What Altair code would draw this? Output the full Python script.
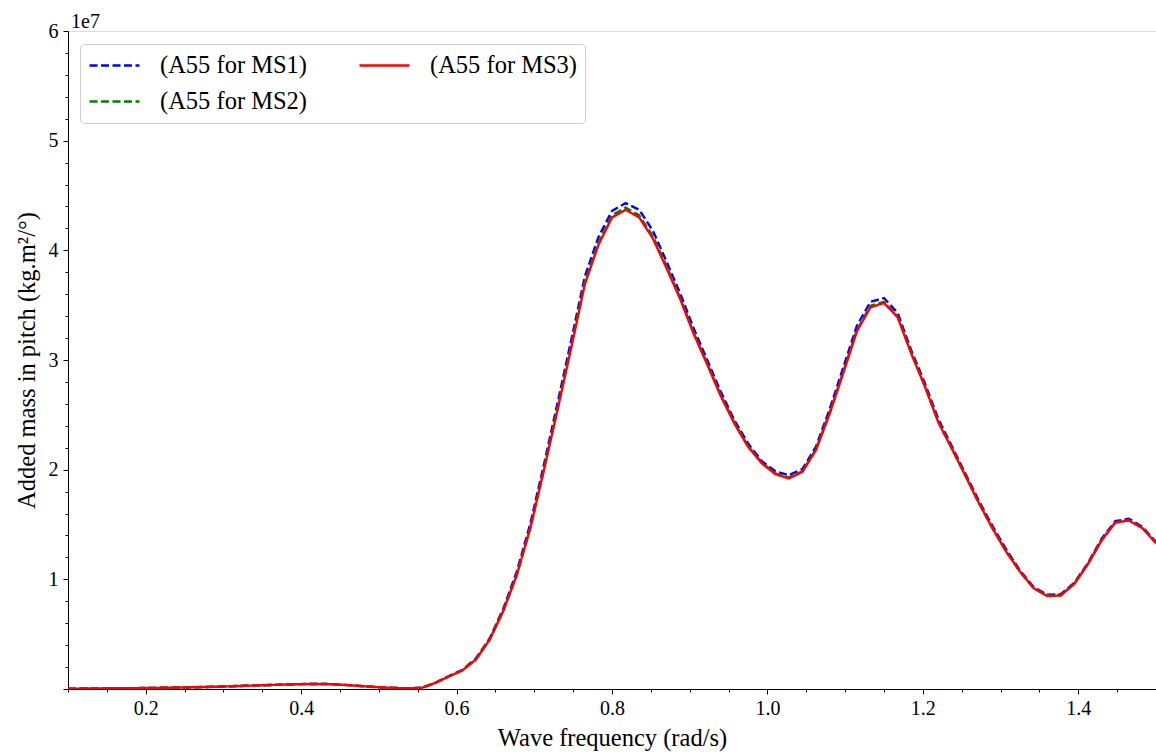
import altair as alt
import pandas as pd

# Wave frequency grid (rad/s)
freq = [0.1, 0.1175, 0.135, 0.1525, 0.17, 0.1875, 0.205, 0.2225, 0.24, 0.2575,
        0.275, 0.2925, 0.31, 0.3275, 0.345, 0.3625, 0.38, 0.3975, 0.415, 0.4325,
        0.45, 0.4675, 0.485, 0.5025, 0.52, 0.5375, 0.555, 0.5725, 0.59, 0.6075,
        0.625, 0.6425, 0.66, 0.6775, 0.695, 0.7125, 0.73, 0.7475, 0.765, 0.7825,
        0.8, 0.8175, 0.835, 0.8525, 0.87, 0.8875, 0.905, 0.9225, 0.94, 0.9575,
        0.975, 0.9925, 1.01, 1.0275, 1.045, 1.0625, 1.08, 1.0975, 1.115, 1.1325,
        1.15, 1.1675, 1.185, 1.2025, 1.22, 1.2375, 1.255, 1.2725, 1.29, 1.3075,
        1.325, 1.3425, 1.36, 1.3775, 1.395, 1.4125, 1.43, 1.4475, 1.465, 1.4825,
        1.5]

# Added mass in pitch, in units of 1e7 kg.m^2/deg
ms1 = [0.003, 0.004, 0.005, 0.006, 0.007, 0.008, 0.010, 0.011, 0.013, 0.015,
       0.018, 0.021, 0.025, 0.029, 0.033, 0.037, 0.041, 0.044, 0.046, 0.045,
       0.040, 0.032, 0.023, 0.015, 0.009, 0.007, 0.011, 0.057, 0.117, 0.175,
       0.28, 0.46, 0.73, 1.07, 1.51, 2.05, 2.61, 3.18, 3.76, 4.12,
       4.36, 4.43, 4.37, 4.18, 3.90, 3.61, 3.29, 3.00, 2.71, 2.45,
       2.24, 2.08, 1.985, 1.95, 2.005, 2.21, 2.55, 2.93, 3.31, 3.53,
       3.565, 3.43, 3.09, 2.79, 2.46, 2.21, 1.96, 1.71, 1.48, 1.27,
       1.08, 0.93, 0.86, 0.865, 0.97, 1.15, 1.37, 1.53, 1.553, 1.48,
       1.34]

ms2 = [0.003, 0.004, 0.005, 0.006, 0.007, 0.008, 0.010, 0.011, 0.013, 0.015,
       0.018, 0.021, 0.025, 0.029, 0.033, 0.037, 0.041, 0.044, 0.046, 0.045,
       0.040, 0.032, 0.023, 0.015, 0.009, 0.007, 0.010, 0.055, 0.115, 0.17,
       0.27, 0.45, 0.71, 1.04, 1.47, 2.01, 2.56, 3.13, 3.71, 4.07,
       4.32, 4.39, 4.32, 4.13, 3.86, 3.57, 3.25, 2.97, 2.68, 2.43,
       2.215, 2.065, 1.965, 1.93, 1.985, 2.185, 2.515, 2.89, 3.27, 3.495,
       3.53, 3.40, 3.07, 2.765, 2.435, 2.19, 1.945, 1.69, 1.46, 1.25,
       1.07, 0.92, 0.85, 0.856, 0.962, 1.142, 1.358, 1.52, 1.54, 1.47,
       1.332]

ms3 = [0.003, 0.004, 0.005, 0.006, 0.007, 0.008, 0.010, 0.011, 0.013, 0.015,
       0.018, 0.021, 0.025, 0.029, 0.033, 0.037, 0.041, 0.044, 0.046, 0.045,
       0.040, 0.032, 0.023, 0.015, 0.009, 0.007, 0.010, 0.055, 0.114, 0.17,
       0.27, 0.45, 0.71, 1.04, 1.47, 2.00, 2.55, 3.11, 3.69, 4.05,
       4.30, 4.37, 4.30, 4.11, 3.84, 3.56, 3.24, 2.96, 2.67, 2.42,
       2.21, 2.06, 1.96, 1.92, 1.98, 2.18, 2.51, 2.88, 3.26, 3.48,
       3.52, 3.39, 3.06, 2.76, 2.43, 2.19, 1.94, 1.69, 1.46, 1.25,
       1.07, 0.92, 0.847, 0.853, 0.96, 1.14, 1.355, 1.516, 1.537, 1.467,
       1.33]

names = ["(A55 for MS1)", "(A55 for MS2)", "(A55 for MS3)"]
colors = ["#0000ff", "#008000", "#ff0000"]
dashes = [[8, 3.5], [8, 3.5], [1, 0]]

x_ticks = [round(0.1 + 0.05 * i, 2) for i in range(29)]
y_ticks = [round(0.2 * i, 1) for i in range(31)]

rows = []
for name, vals in zip(names, [ms1, ms2, ms3]):
    for f, v in zip(freq, vals):
        rows.append({"freq": f, "value": v, "series": name})
df = pd.DataFrame(rows)

FONT = "Liberation Serif"

x_major = "abs(datum.value*5 - round(datum.value*5)) < 0.001"
y_major = "abs(datum.value - round(datum.value)) < 0.001"

x_enc = alt.X("freq:Q", scale=alt.Scale(domain=[0.1, 1.5], nice=False, zero=False),
              axis=alt.Axis(values=x_ticks, title="Wave frequency (rad/s)",
                            labelExpr=x_major + " ? format(datum.value, '.1f') : ''",
                            tickSize={"condition": {"test": x_major, "value": 5}, "value": 3},
                            labelFontSize=20, titleFontSize=24.5, labelFont=FONT, titleFont=FONT,
                            labelColor="black", titleColor="black", tickColor="black",
                            domainColor="black", grid=False, labelPadding=4, titlePadding=8,
                            labelFlush=False, labelOverlap=False, titleFontWeight="normal"))
y_enc = alt.Y("value:Q", scale=alt.Scale(domain=[0, 6], nice=False),
              axis=alt.Axis(values=y_ticks, title="Added mass in pitch (kg.m²/°)",
                            labelExpr="(" + y_major + ") && datum.value > 0.5 ? format(datum.value, 'd') : ''",
                            tickSize={"condition": {"test": y_major, "value": 5}, "value": 3},
                            labelFontSize=20, titleFontSize=24.5, labelFont=FONT, titleFont=FONT,
                            labelColor="black", titleColor="black", tickColor="black",
                            domainColor="black", grid=False, labelPadding=5, titlePadding=9,
                            labelFlush=False, labelOverlap=False, titleFontWeight="normal"))

legend = alt.Legend(orient="none", legendX=12, legendY=13, columns=2, title=None,
                    symbolType="stroke", symbolSize=2500, symbolStrokeWidth=2.4,
                    clipHeight=27, labelFontSize=24.5, labelFont=FONT, labelColor="black",
                    fillColor="white", strokeColor="#d0d0d0", cornerRadius=4,
                    padding=8, columnPadding=51, rowPadding=9, labelOffset=19,
                    labelLimit=400)

color_enc = alt.Color("series:N", scale=alt.Scale(domain=names, range=colors), legend=legend)
dash_enc = alt.StrokeDash("series:N", scale=alt.Scale(domain=names, range=dashes), legend=legend)

layers = []
for name in names:
    layers.append(
        alt.Chart(df).transform_filter(alt.datum.series == name)
        .mark_line(strokeWidth=2.4, clip=True)
        .encode(x=x_enc, y=y_enc, color=color_enc, strokeDash=dash_enc, order="freq:Q")
    )

offset = alt.Chart(pd.DataFrame({"t": ["1e7"]})).mark_text(
    align="left", baseline="alphabetic", font=FONT, fontSize=20, color="black"
).encode(x=alt.value(3), y=alt.value(-3), text="t:N")

chart = alt.layer(*layers, offset).properties(
    width=1088, height=658,
    autosize=alt.AutoSizeParams(type="none"),
    padding={"left": 68, "top": 31, "right": 0, "bottom": 67},
).configure_view(stroke="black", strokeWidth=1).configure(background="white")

chart.save("out.html", embed_options={"renderer": "svg", "actions": False})
